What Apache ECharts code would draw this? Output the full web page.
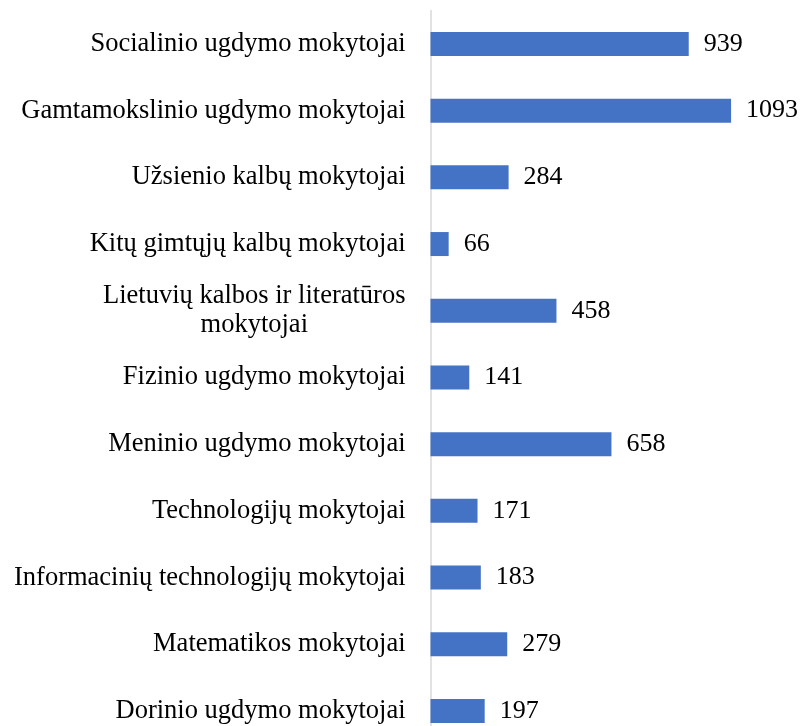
<!DOCTYPE html>
<html>
<head>
<meta charset="utf-8">
<script src="https://cdn.jsdelivr.net/npm/echarts@6/dist/echarts.min.js"></script>
<style>html,body{margin:0;padding:0;background:#fff}#c{width:802px;height:726px}</style>
</head>
<body>
<div id="c"></div>
<script>
const categories = [
  "Socialinio ugdymo mokytojai",
  "Gamtamokslinio ugdymo mokytojai",
  "Užsienio kalbų mokytojai",
  "Kitų gimtųjų kalbų mokytojai",
  "Lietuvių kalbos ir literatūros\nmokytojai",
  "Fizinio ugdymo mokytojai",
  "Meninio ugdymo mokytojai",
  "Technologijų mokytojai",
  "Informacinių technologijų mokytojai",
  "Matematikos mokytojai",
  "Dorinio ugdymo mokytojai"
];
const values = [939, 1093, 284, 66, 458, 141, 658, 171, 183, 279, 197];

const chart = echarts.init(document.getElementById('c'));
const font = "'Liberation Serif', 'Times New Roman', serif";
chart.setOption({
  animation: false,
  grid: { left: 430.5, top: 10.6, width: 330, height: 733.7, containLabel: false, outerBoundsMode: 'none' },
  xAxis: { type: 'value', min: 0, max: 1200, show: false },
  yAxis: {
    type: 'category',
    data: categories,
    inverse: true,
    axisLine: { lineStyle: { color: '#d9d9d9', width: 1.5 } },
    axisTick: { show: false },
    axisLabel: {
      margin: 25,
      fontSize: 26.5,
      color: '#000',
      fontFamily: font,
      lineHeight: 29,
      formatter: function (v) {
        if (v.indexOf('\n') >= 0) {
          return v.split('\n').map(s => '{c|' + s + '}').join('\n');
        }
        return v;
      },
      rich: { c: { align: 'center', fontSize: 26.5, fontFamily: font, color: '#000', lineHeight: 29 } }
    }
  },
  series: [{
    type: 'bar',
    data: values,
    barWidth: 24,
    itemStyle: { color: '#4472C4' },
    label: {
      show: true,
      position: 'right',
      distance: 15,
      fontSize: 26,
      color: '#000',
      fontFamily: font
    }
  }]
});
</script>
</body>
</html>
